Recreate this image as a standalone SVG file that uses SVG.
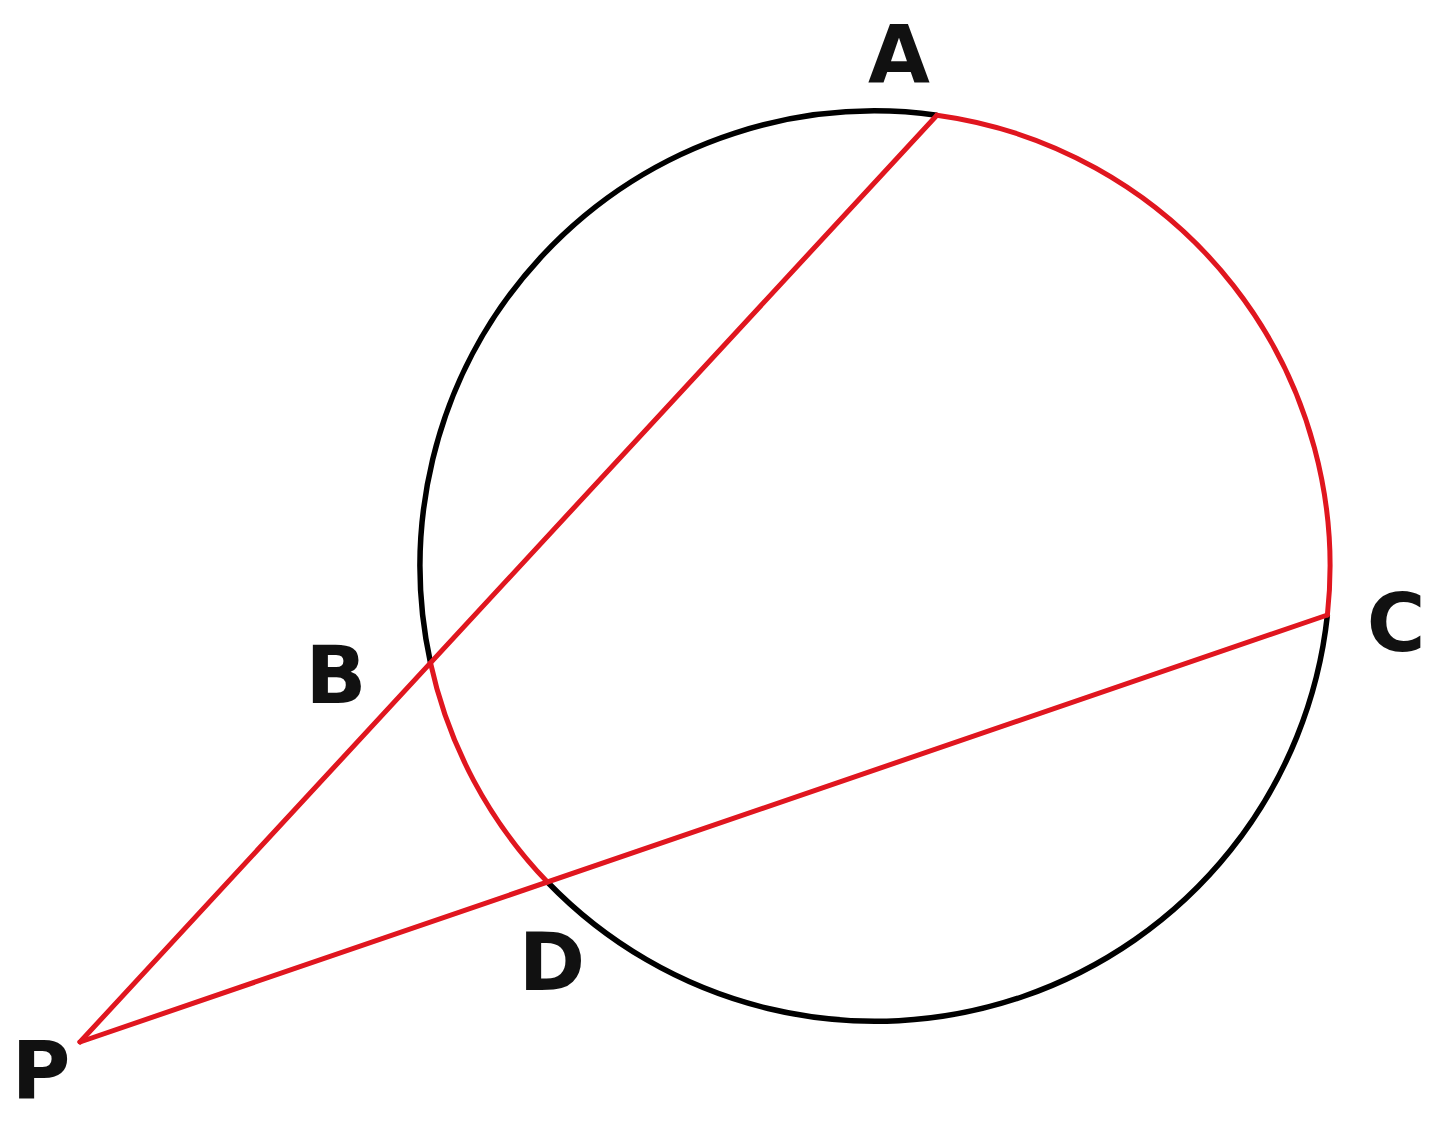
<svg xmlns="http://www.w3.org/2000/svg" width="1440" height="1128" viewBox="0 0 1440 1128">
<style>
.lbl{font-family:"DejaVu Sans","Verdana",sans-serif;font-weight:bold;font-size:80px;fill:#111;text-anchor:middle}
.red{fill:none;stroke:#e0161f;stroke-width:5;stroke-linecap:round}
.blk{fill:none;stroke:#000;stroke-width:5.5;stroke-linecap:butt}
</style>
<rect width="1440" height="1128" fill="#fff"/>
<g id="circle">
<path class="blk" d="M430.5,662.9 A455,455 0 0 1 936.9,115.2"/>
<path class="blk" d="M1327.4,615 A455,455 0 0 1 547.4,882"/>
</g>
<g id="connectors">
<path class="red" d="M936.9,115.2 A455,455 0 0 1 1327.4,615"/>
<path class="red" d="M430.5,662.9 A455,455 0 0 0 547.4,882"/>
<line class="red" x1="80" y1="1042" x2="936.9" y2="115.2"/>
<line class="red" x1="80" y1="1042" x2="1327.4" y2="615"/>
</g>
<g id="node-A"><text class="lbl" x="899" y="83">A</text></g>
<g id="node-B"><text class="lbl" x="336" y="703">B</text></g>
<g id="node-C"><text class="lbl" x="1396" y="651">C</text></g>
<g id="node-D"><text class="lbl" x="552" y="990">D</text></g>
<g id="node-P"><text class="lbl" x="41" y="1098">P</text></g>
</svg>
